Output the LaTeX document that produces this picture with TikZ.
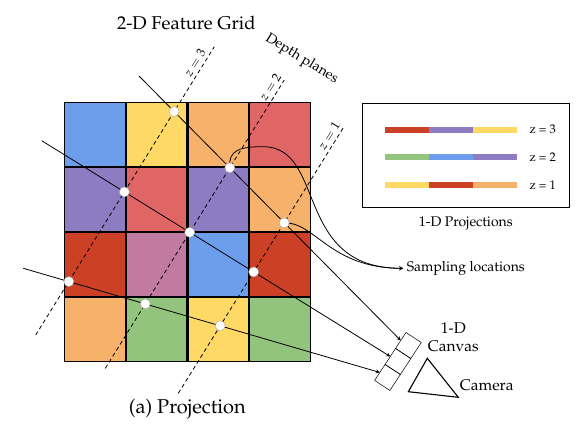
\documentclass[tikz,border=0pt]{standalone}
\usepackage[T1]{fontenc}
\usepackage{mathpazo}
\usetikzlibrary{arrows,positioning,matrix,calc}
\definecolor{gblue}{HTML}{6D9EEB}
\definecolor{gyellow}{HTML}{FFD966}
\definecolor{gorange}{HTML}{F6B26B}
\definecolor{gred}{HTML}{E06666}
\definecolor{gpurple}{HTML}{8E7CC3}
\definecolor{gdred}{HTML}{CC4125}
\definecolor{gmauve}{HTML}{C27BA0}
\definecolor{ggreen}{HTML}{93C47D}

\begin{document}
\begin{tikzpicture}
	[ x=1pt, y=1pt, >=stealth,
	  cell/.style={ draw, line width=1.2pt, minimum width=60.5pt, minimum height=63.75pt, inner sep=0pt, outer sep=0pt},
	  featgrid/.style={ matrix of nodes, nodes={cell},
	  nodes in empty cells,
	  column sep=0pt,
	  row sep=0pt,
	  },
	  plane/.style={ dash pattern=on 4pt off 3pt, line width=0.8pt},
	  ray/.style={ line width=0.8pt},
	  pt/.style={ circle, fill=white, draw=gray!70, line width=0.4pt, minimum size=10pt, inner sep=0pt},
	  canvascell/.style={ draw, line width=0.5pt, rotate=-33.2, minimum width=18.3pt, minimum height=19.1pt, inner sep=0pt, outer sep=0pt},
	  projbar/.style={ line width=6pt},
	  zlbl/.style={ font=\fontsize{12.5}{14}\selectfont},
	  lbl/.style={ font=\fontsize{14}{16}\selectfont}
	]
	\useasboundingbox (0,0) rectangle (585,-430);
\matrix[featgrid] (mat) at (187.5,-232)
{
	|[fill=gblue]|   & |[fill=gyellow]| & |[fill=gorange]| & |[fill=gred]|    \\
	|[fill=gpurple]| & |[fill=gred]|    & |[fill=gpurple]| & |[fill=gorange]| \\
	|[fill=gdred]|   & |[fill=gmauve]|  & |[fill=gblue]|   & |[fill=gdred]|   \\
	|[fill=gorange]| & |[fill=ggreen]|  & |[fill=gyellow]| & |[fill=ggreen]|  \\
};
	  \node[font=\fontsize{18.5}{22}\selectfont] (title) at (186.3,-22.7) {2-D Feature Grid};
	  \node[font=\fontsize{20}{24}\selectfont] (caption) at (187.3,-409.3) {(a) Projection};
	  \node[lbl, rotate=-31.5] (depth) at (301.7,-59) {Depth planes};

	  % depth planes
	  \coordinate (z3a) at (35.7,-335);   \coordinate (z3b) at (214.3,-46.7);
	  \coordinate (z2a) at (105.3,-368.3); \coordinate (z2b) at (284.3,-80);
	  \coordinate (z1a) at (178.3,-393.3); \coordinate (z1b) at (343.3,-127.7);
	  \draw[plane] (z3a) -- node[pos=.93, sloped, above, zlbl] {$z=3$} (z3b);
	  \draw[plane] (z2a) -- node[pos=.96, sloped, above, zlbl] {$z=2$} (z2b);
	  \draw[plane] (z1a) -- node[pos=.955, sloped, above, zlbl] {$z=1$} (z1b);

	  % 1-D canvas and camera
	  \node[canvascell] (cv1) at (408.4,-345.5) {};
	  \node[canvascell, anchor=north] (cv2) at (cv1.south) {};
	  \node[canvascell, anchor=north] (cv3) at (cv2.south) {};
	  \draw[line width=1.1pt] (427.3,-358.3) -- (408.3,-391.7) -- (458.3,-397.3) -- cycle;
	  \node[font=\fontsize{15.5}{17.7}\selectfont, align=center] (canvaslbl) at (453.3,-337.2) {1-D\\Canvas};
	  \node[font=\fontsize{15.5}{17.7}\selectfont] (camera) at (486.7,-385) {Camera};

	  % rays
	  \coordinate (r1) at (139,-76);
	  \coordinate (r2) at (41.7,-140.7);
	  \coordinate (r3) at (23.3,-268.3);
		 \foreach \i in {1,2,3}{
				\draw[ray,->] (r\i) -- (cv\i.west);
			 }

	  % sampling locations
	  \coordinate (samp) at (403.3,-268.3);
	  \node[lbl, anchor=west] (samplbl) at (samp) {Sampling locations};
	  \draw[ray,->] (229.8,-167.8) .. controls (228,-150) and (240,-146.7) .. (263,-146.7)
		  .. controls (326.6,-146.7) and (293.2,-268.3) .. (samp);
	  \draw[ray,->] (284.2,-222.8) .. controls (315,-222) and (330,-268) .. (samp);

		 \foreach \n/\x/\y in {13/174.1/111.5, 12/229.8/167.8, 11/284.2/222.8,
				23/124.4/191.9, 22/189.7/232.3, 21/253.7/271.9,
				33/68.8/281.6, 32/145.3/303.9, 31/220.2/325.8}{
				\node[pt] (pt\n) at (\x,-\y) {};
			 }

	  % 1-D projections
	  \node[draw, line width=0.9pt, minimum width=207pt, minimum height=103.7pt] (legend) at (465.8,-155.2) {};
		 \foreach \y/\ca/\cb/\cc/\z in {129.7/gdred/gpurple/gyellow/3, 156.7/ggreen/gblue/gpurple/2, 185/gyellow/gdred/gorange/1}{
				\draw[projbar, \ca] (385,-\y) -- (428.9,-\y);
				\draw[projbar, \cb] (428.9,-\y) -- (472.8,-\y);
				\draw[projbar, \cc] (472.8,-\y) -- (516.7,-\y);
				\node[zlbl, anchor=west] (key\z) at (526,-\y) {z = \z};
			 }
	  \node[lbl, below=6pt of legend] (projtitle) {1-D Projections};
\end{tikzpicture}
\end{document}
